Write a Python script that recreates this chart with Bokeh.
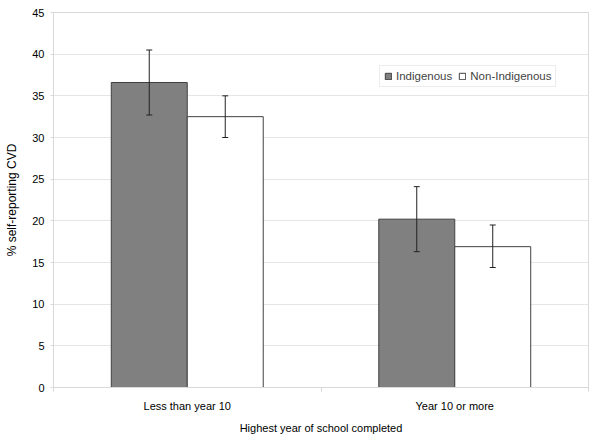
from bokeh.plotting import figure
from bokeh.models import (ColumnDataSource, Range1d, FixedTicker, Whisker, TeeHead,
                          Legend, LegendItem)
from bokeh.embed import file_html
from bokeh.resources import INLINE

categories = ["Less than year 10", "Year 10 or more"]
indigenous = [36.6, 20.2]
indigenous_lo = [32.7, 16.3]
indigenous_hi = [40.5, 24.1]
non_indigenous = [32.5, 16.9]
non_indigenous_lo = [30.0, 14.4]
non_indigenous_hi = [35.0, 19.5]
y_ticks = [0, 5, 10, 15, 20, 25, 30, 35, 40, 45]

BAR_W = 0.284
FONT = "Liberation Sans"
LIGHT = "#d9d9d9"
DARK = "#404040"

centers = [i + 0.5 for i in range(len(categories))]
src_ind = ColumnDataSource(dict(x=[c - BAR_W / 2 for c in centers], top=indigenous,
                                lo=indigenous_lo, hi=indigenous_hi))
src_non = ColumnDataSource(dict(x=[c + BAR_W / 2 for c in centers], top=non_indigenous,
                                lo=non_indigenous_lo, hi=non_indigenous_hi))

p = figure(frame_width=535, frame_height=375, output_backend="svg", toolbar_location=None,
           x_range=Range1d(0, len(categories)), y_range=Range1d(0, 45),
           min_border_left=53, min_border_right=8, min_border_top=12, min_border_bottom=50)
p.outline_line_color = LIGHT
p.background_fill_color = "white"

r1 = p.vbar(x="x", top="top", width=BAR_W, source=src_ind, fill_color="#808080",
            line_color=DARK, line_width=1)
r2 = p.vbar(x="x", top="top", width=BAR_W, source=src_non, fill_color="white",
            line_color=DARK, line_width=1)

for src in (src_ind, src_non):
    w = Whisker(base="x", upper="hi", lower="lo", source=src, line_color="#222222",
                line_width=1, level="overlay",
                upper_head=TeeHead(size=6, line_color="#222222", line_width=1),
                lower_head=TeeHead(size=6, line_color="#222222", line_width=1))
    p.add_layout(w)

# x axis: labels at category centres, tick marks at category boundaries
p.xaxis.ticker = FixedTicker(ticks=centers, minor_ticks=list(range(len(categories) + 1)))
p.xaxis.major_label_overrides = {c: lab for c, lab in zip(centers, categories)}
p.xaxis.major_tick_line_color = None
p.xaxis.minor_tick_line_color = LIGHT
p.xaxis.minor_tick_out = 4
p.xaxis.minor_tick_in = 0
p.xaxis.axis_line_color = LIGHT
p.xaxis.major_label_standoff = 6
p.xaxis.axis_label = "Highest year of school completed"
p.xaxis.axis_label_standoff = 7
p.xgrid.grid_line_color = None

p.yaxis.ticker = FixedTicker(ticks=y_ticks)
p.yaxis.axis_line_color = LIGHT
p.yaxis.major_tick_line_color = LIGHT
p.yaxis.major_tick_out = 3
p.yaxis.major_tick_in = 0
p.yaxis.minor_tick_line_color = None
p.yaxis.major_label_standoff = 6
p.yaxis.axis_label = "% self-reporting CVD"
p.yaxis.axis_label_standoff = 10
p.ygrid.grid_line_color = "#e6e6e6"

for ax in (p.xaxis, p.yaxis):
    ax.major_label_text_font = FONT
    ax.major_label_text_font_size = "11px"
    ax.major_label_text_color = "black"
    ax.axis_label_text_font = FONT
    ax.axis_label_text_font_style = "normal"
    ax.axis_label_text_color = "black"
p.xaxis.axis_label_text_font_size = "11px"
p.yaxis.axis_label_text_font_size = "12px"

legend = Legend(items=[LegendItem(label="Indigenous", renderers=[r1]),
                       LegendItem(label="Non-Indigenous", renderers=[r2])],
                orientation="horizontal", location=(326, 300),
                label_text_font=FONT, label_text_font_size="11.5px",
                glyph_width=8, glyph_height=8, label_height=12, label_standoff=4,
                spacing=6, padding=4, margin=0,
                border_line_color=LIGHT, background_fill_color="white")
p.add_layout(legend, "center")

open("out.html", "w").write(file_html(p, INLINE))
